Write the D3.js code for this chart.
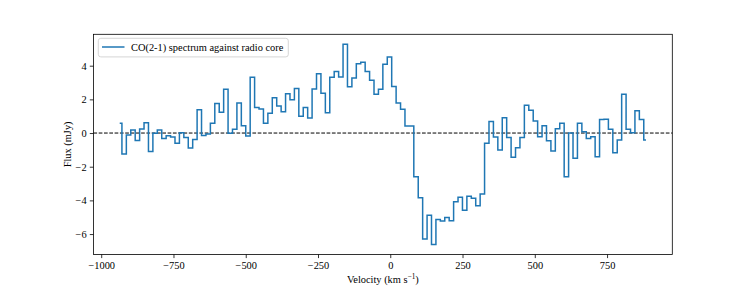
<!DOCTYPE html>
<html>
<head>
<meta charset="utf-8">
<script src="https://cdn.jsdelivr.net/npm/d3@7"></script>
<style>
  body { margin: 0; background: #fff; }
  svg text { font-family: "Liberation Serif", "DejaVu Serif", serif; fill: #000; }
</style>
</head>
<body>
<svg id="chart"></svg>
<script>
// channel axis (km/s)
const velStart = -936;
const channelWidth = 15.3;

// flux per channel (mJy)
const flux = [
  0.58, -1.25, -0.12, 0.18, -0.45, 0.24, 0.61, -1.09, -0.02, 0.18,
  -0.32, -0.16, -0.24, -0.61, 0.02, -0.26, -0.89, -0.38, 1.39, -0.15,
  -0.05, 0.58, 1.76, 1.23, 2.6, -0.02, 0.22, 1.78, 0.44, -0.18,
  3.31, 1.52, 1.43, 0.58, 1.17, 2.1, 1.6, 1.27, 2.34, 1.98,
  2.65, 0.99, 1.52, 0.89, 2.61, 3.52, 2.36, 1.21, 3.31, 3.66,
  3.33, 5.27, 2.75, 3.27, 4.12, 4.2, 3.66, 3.13, 2.3, 2.6,
  4.08, 4.52, 2.77, 1.78, 1.41, 0.42, 0.42, -2.6, -3.84, -6.3,
  -4.89, -6.62, -5.13, -5.23, -5.01, -5.21, -4.08, -3.82, -4.58, -3.76,
  -3.88, -4.32, -3.62, -0.6, 0.68, -0.24, -1.01, 0.91, -0.26, -1.44,
  -0.87, -0.26, 1.65, 1.35, 0.71, -0.22, 0.43, -0.46, -1.07, 0.26,
  0.58, -2.6, 0.0, -1.5, 0.58, 0.08, -0.32, -0.22, -1.41, 0.8,
  0.82, 0.22, -1.17, -0.42, 2.3, 0.22, 0.02, 1.33, 0.81, -0.42
];

const xTicks = [-1000, -750, -500, -250, 0, 250, 500, 750];
const yTicks = [-6, -4, -2, 0, 2, 4];
const legendLabel = "CO(2-1) spectrum against radio core";

const data = flux.map((f, i) => ({ v: velStart + i * channelWidth, f: f }));

const width = 747;
const height = 286;
const margin = { left: 93.4, right: 747 - 672.3, top: 34.3, bottom: 286 - 254.5 };

const svg = d3.select("#chart").attr("width", width).attr("height", height);

// matplotlib-like 5% margins
const xExt = d3.extent(data, (d) => d.v);
const yExt = d3.extent(data, (d) => d.f);
const xPad = (xExt[1] - xExt[0]) * 0.05;
const yPad = (yExt[1] - yExt[0]) * 0.05;

const x = d3.scaleLinear()
  .domain([xExt[0] - xPad, xExt[1] + xPad])
  .range([margin.left, width - margin.right]);
const y = d3.scaleLinear()
  .domain([yExt[0] - yPad, yExt[1] + yPad])
  .range([height - margin.bottom, margin.top]);

const fmt = (d) => String(d).replace("-", "\u2212");

// zero line
svg.append("line")
  .attr("x1", margin.left).attr("x2", width - margin.right)
  .attr("y1", y(0)).attr("y2", y(0))
  .attr("stroke", "#000")
  .attr("stroke-width", 1)
  .attr("stroke-dasharray", "3.7,1.6");

// spectrum
const line = d3.line()
  .x((d) => x(d.v))
  .y((d) => y(d.f))
  .curve(d3.curveStep);

svg.append("path")
  .datum(data)
  .attr("fill", "none")
  .attr("stroke", "#1f77b4")
  .attr("stroke-width", 1.5)
  .attr("stroke-linejoin", "miter")
  .attr("d", line);

// axes
const xAxis = svg.append("g")
  .attr("transform", `translate(0,${height - margin.bottom})`)
  .call(d3.axisBottom(x).tickValues(xTicks).tickFormat(fmt).tickSizeOuter(0).tickSize(3.6).tickPadding(3.2));
const yAxis = svg.append("g")
  .attr("transform", `translate(${margin.left},0)`)
  .call(d3.axisLeft(y).tickValues(yTicks).tickFormat(fmt).tickSizeOuter(0).tickSize(3.6).tickPadding(3.2));

[xAxis, yAxis].forEach((a) => {
  a.select(".domain").remove();
  a.selectAll(".tick line").attr("stroke", "#000").attr("stroke-width", 0.8);
  a.selectAll(".tick text").style("font-size", "10.4px").style("font-family", "Liberation Serif");
});

// frame
svg.append("rect")
  .attr("x", margin.left).attr("y", margin.top)
  .attr("width", width - margin.left - margin.right)
  .attr("height", height - margin.top - margin.bottom)
  .attr("fill", "none")
  .attr("stroke", "#000")
  .attr("stroke-width", 0.8);

// labels
const xl = svg.append("text")
  .attr("x", (margin.left + width - margin.right) / 2)
  .attr("y", 283)
  .attr("text-anchor", "middle")
  .style("font-size", "10.4px");
xl.append("tspan").text("Velocity (km s");
xl.append("tspan").attr("dy", -4).style("font-size", "7.3px").text("\u22121");
xl.append("tspan").attr("dy", 4).text(")");

svg.append("text")
  .attr("transform", `translate(71,${(margin.top + height - margin.bottom) / 2}) rotate(-90)`)
  .attr("text-anchor", "middle")
  .style("font-size", "10.4px")
  .text("Flux (mJy)");

// legend
const lg = svg.append("g");
lg.append("rect")
  .attr("x", 98.3).attr("y", 38.3)
  .attr("width", 190).attr("height", 18.6)
  .attr("rx", 2.5)
  .attr("fill", "#fff").attr("fill-opacity", 0.8)
  .attr("stroke", "#cccccc").attr("stroke-width", 0.8);
lg.append("line")
  .attr("x1", 102).attr("x2", 124.5)
  .attr("y1", 47).attr("y2", 47)
  .attr("stroke", "#1f77b4").attr("stroke-width", 1.5);
lg.append("text")
  .attr("x", 131)
  .attr("y", 50.8)
  .style("font-size", "10.4px")
  .text(legendLabel);
</script>
</body>
</html>
